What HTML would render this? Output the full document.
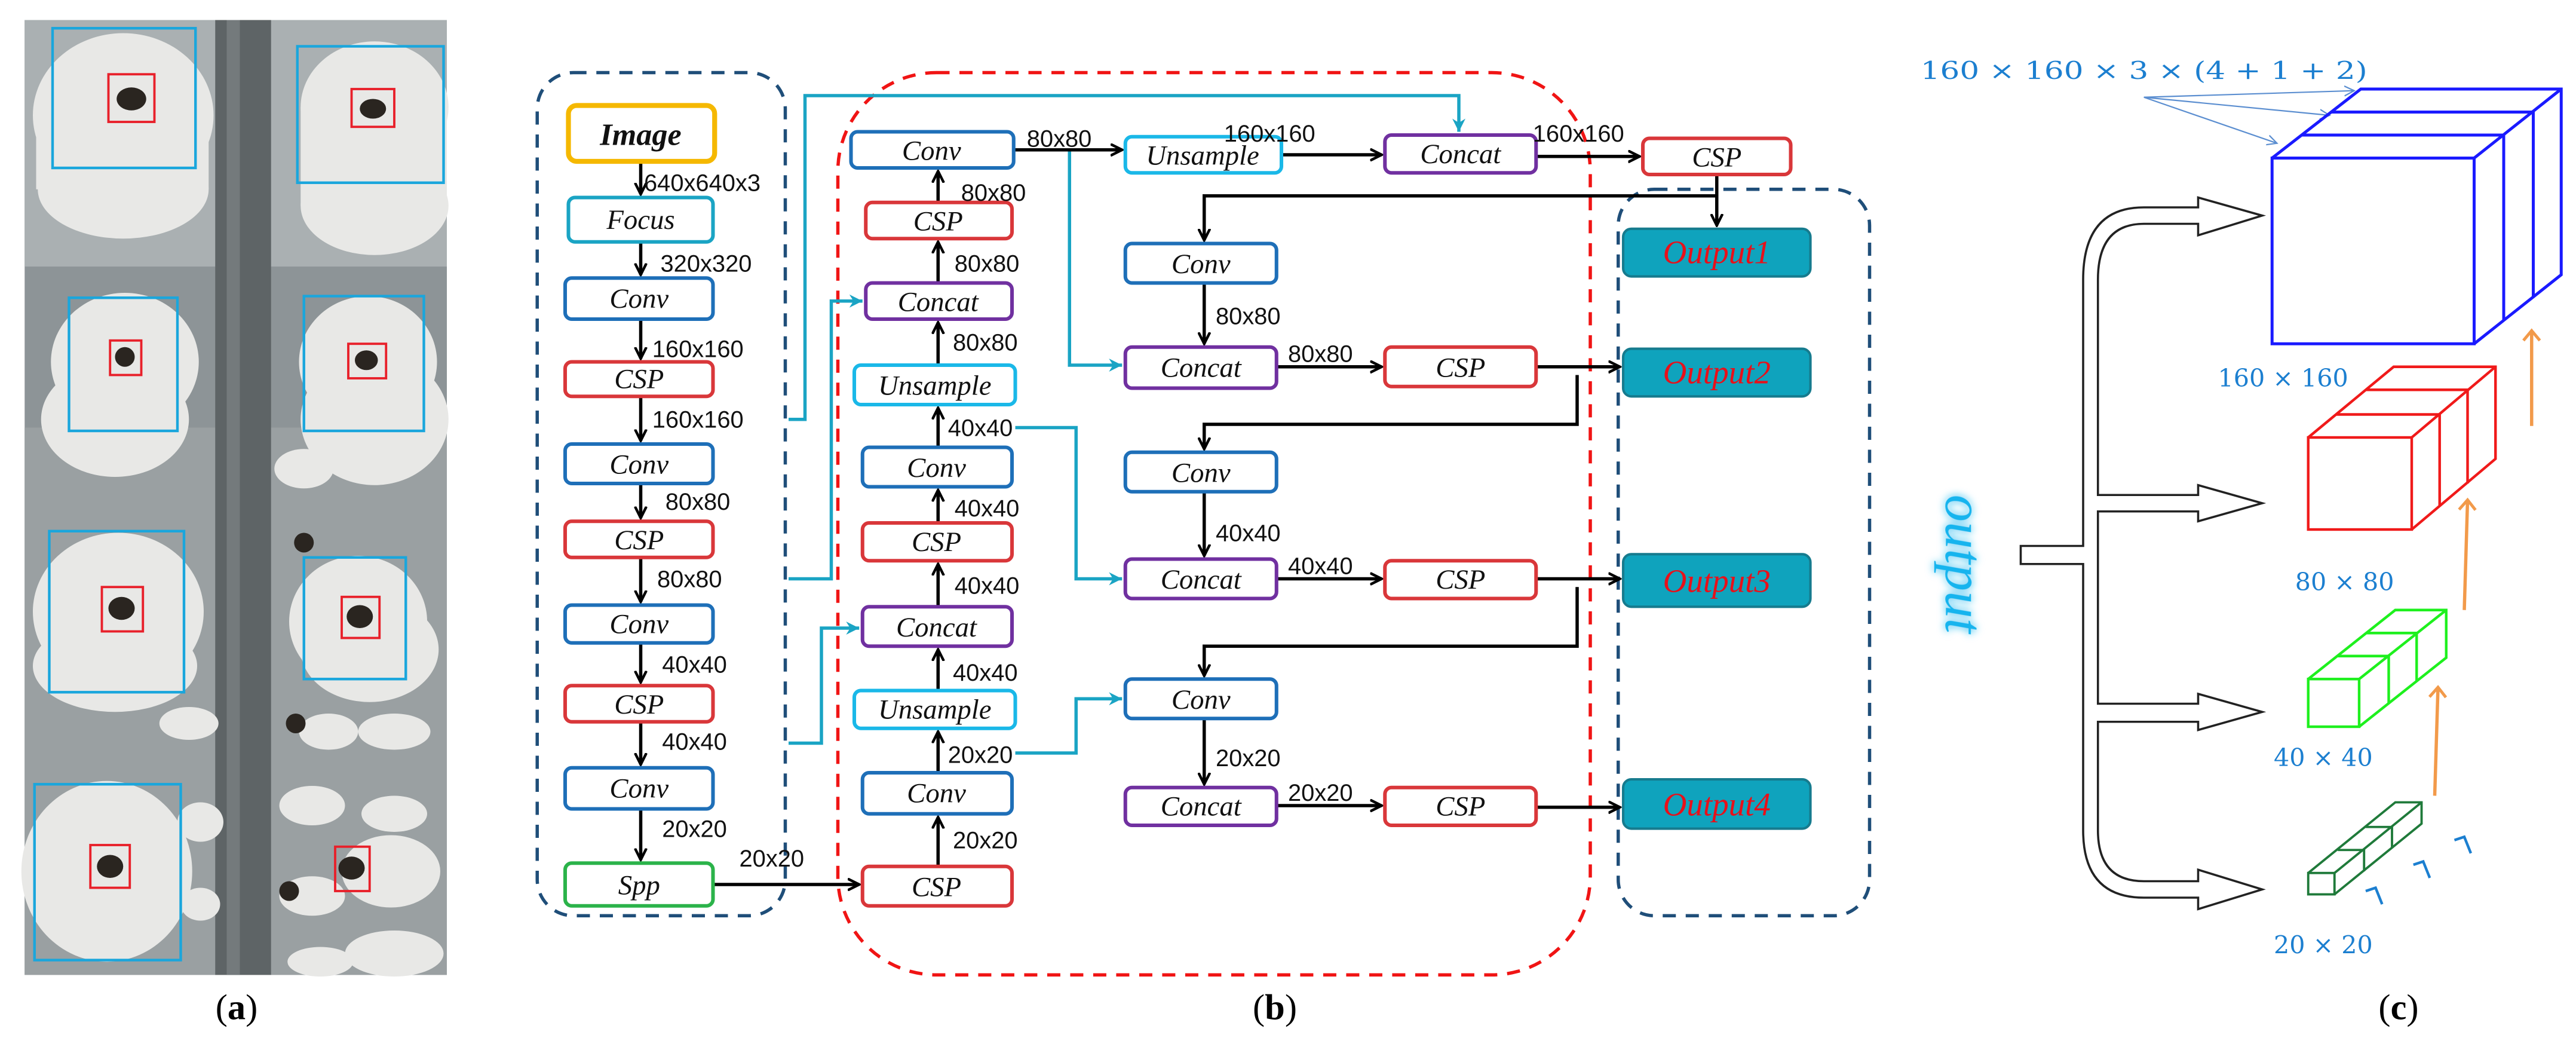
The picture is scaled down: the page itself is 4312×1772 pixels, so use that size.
<!DOCTYPE html>
<html><head><meta charset="utf-8"><style>
html,body{margin:0;padding:0;background:#fff;}
svg{display:block;}
.n{font-family:"Liberation Serif",serif;font-style:italic;font-size:17px;text-anchor:middle;fill:#111;}
.l{font-family:"Liberation Sans",sans-serif;font-size:14.5px;fill:#111;}
.o{font-family:"Liberation Serif",serif;font-style:italic;font-size:20px;text-anchor:middle;fill:#e8101a;}
.c{font-family:"DejaVu Serif","Liberation Serif",serif;font-size:15px;fill:#1c7fd0;}
.cap{font-family:"Liberation Serif",serif;font-size:22px;text-anchor:middle;fill:#000;}
</style></head><body>
<svg width="4312" height="1772" viewBox="0 0 1568 644" xmlns="http://www.w3.org/2000/svg">
<defs>
<marker id="ab" markerWidth="8" markerHeight="8" refX="7" refY="4" orient="auto" markerUnits="userSpaceOnUse"><path d="M0,0.5 L7,4 L0,7.5" fill="none" stroke="#000" stroke-width="1.6"/></marker>
<marker id="ac" markerWidth="9" markerHeight="9" refX="8" refY="4.5" orient="auto" markerUnits="userSpaceOnUse"><path d="M0,0.5 L8,4.5 L0,8.5 L2.5,4.5Z" fill="#1aa4c4"/></marker>
<marker id="ao" markerWidth="10" markerHeight="12" refX="7" refY="6" orient="auto" markerUnits="userSpaceOnUse"><path d="M1,1 L7,6 L1,11" fill="none" stroke="#f29a4a" stroke-width="1.8"/></marker>
<marker id="at" markerWidth="8" markerHeight="8" refX="6" refY="4" orient="auto" markerUnits="userSpaceOnUse"><path d="M0,1 L6,4 L0,7" fill="none" stroke="#5b8ed0" stroke-width="0.8"/></marker>
<filter id="glow" x="-20%" y="-20%" width="140%" height="140%"><feGaussianBlur stdDeviation="2.5" result="b"/><feMerge><feMergeNode in="b"/><feMergeNode in="SourceGraphic"/></feMerge></filter>
</defs>

<!-- Panel (a) photo -->
<rect x="15" y="12" width="257" height="581" fill="#8d9497"/>
<rect x="15" y="12" width="257" height="150" fill="#aab0b2"/>
<rect x="15" y="260" width="257" height="333" fill="#9aa0a2"/>
<rect x="131" y="12" width="34" height="581" fill="#5e6466"/>
<rect x="138" y="12" width="8" height="581" fill="#747a7c"/>
<g fill="#e8e8e6">
<ellipse cx="75" cy="70" rx="55" ry="50"/><rect x="22" y="70" width="105" height="45"/><ellipse cx="75" cy="115" rx="52" ry="30"/>
<ellipse cx="228" cy="65" rx="45" ry="40"/><rect x="183" y="65" width="89" height="60"/><ellipse cx="228" cy="125" rx="45" ry="30"/>
<ellipse cx="76" cy="220" rx="45" ry="42"/><ellipse cx="70" cy="255" rx="45" ry="35"/>
<ellipse cx="224" cy="220" rx="42" ry="40"/><ellipse cx="228" cy="255" rx="45" ry="40"/>
<ellipse cx="72" cy="372" rx="52" ry="48"/><ellipse cx="70" cy="405" rx="50" ry="28"/>
<ellipse cx="218" cy="378" rx="42" ry="40"/><ellipse cx="225" cy="395" rx="42" ry="32"/>
<ellipse cx="65" cy="530" rx="52" ry="55"/>
<ellipse cx="238" cy="530" rx="30" ry="22"/><ellipse cx="240" cy="580" rx="30" ry="14"/>
<ellipse cx="185" cy="285" rx="18" ry="12"/><ellipse cx="190" cy="490" rx="20" ry="12"/><ellipse cx="200" cy="445" rx="18" ry="11"/>
<ellipse cx="240" cy="445" rx="22" ry="11"/><ellipse cx="240" cy="495" rx="20" ry="11"/><ellipse cx="190" cy="545" rx="20" ry="12"/>
<ellipse cx="115" cy="440" rx="18" ry="10"/><ellipse cx="122" cy="500" rx="14" ry="12"/><ellipse cx="122" cy="550" rx="12" ry="10"/>
<ellipse cx="195" cy="585" rx="20" ry="9"/>
</g>
<g fill="#2a2520">
<ellipse cx="80" cy="60" rx="9" ry="7"/><ellipse cx="227" cy="66" rx="8" ry="6"/><ellipse cx="76" cy="217" rx="6" ry="6"/>
<ellipse cx="223" cy="219" rx="7" ry="6"/><ellipse cx="74" cy="370" rx="8" ry="7"/><ellipse cx="219" cy="375" rx="8" ry="7"/>
<ellipse cx="67" cy="527" rx="8" ry="7"/><ellipse cx="214" cy="528" rx="8" ry="7"/>
<ellipse cx="185" cy="330" rx="6" ry="6"/><ellipse cx="180" cy="440" rx="6" ry="6"/><ellipse cx="176" cy="542" rx="6" ry="6"/>
</g>
<g fill="none" stroke="#1aa6dc" stroke-width="1.6">
<rect x="32" y="17" width="87" height="85"/><rect x="181" y="28" width="89" height="83"/>
<rect x="42" y="181" width="66" height="81"/><rect x="185" y="180" width="73" height="82"/>
<rect x="30" y="323" width="82" height="98"/><rect x="185" y="339" width="62" height="74"/>
<rect x="21" y="477" width="89" height="107"/>
</g>
<g fill="none" stroke="#e8202a" stroke-width="1.4">
<rect x="66" y="45" width="28" height="29"/><rect x="214" y="54" width="26" height="23"/>
<rect x="67" y="207" width="19" height="21"/><rect x="212" y="209" width="23" height="21"/>
<rect x="62" y="357" width="25" height="27"/><rect x="208" y="363" width="23" height="25"/>
<rect x="55" y="514" width="24" height="26"/><rect x="204" y="515" width="21" height="27"/>
</g>
<text class="cap" x="144" y="620">(<tspan font-weight="bold">a</tspan>)</text>

<!-- Panel (b) containers -->
<rect x="327" y="44" width="151" height="513" rx="22" fill="none" stroke="#1f4e79" stroke-width="2" stroke-dasharray="8,6"/>
<rect x="510" y="44" width="458" height="549" rx="60" fill="none" stroke="#f01414" stroke-width="2" stroke-dasharray="8,6"/>
<rect x="985" y="115" width="153" height="442" rx="22" fill="none" stroke="#1f4e79" stroke-width="2" stroke-dasharray="8,6"/>

<!-- cyan connectors -->
<g fill="none" stroke="#1aa4c4" stroke-width="2">
<path d="M480,255 H490 V58 H888 V80" marker-end="url(#ac)"/>
<path d="M480,352 H506 V183 H525" marker-end="url(#ac)"/>
<path d="M480,452 H500 V382 H523" marker-end="url(#ac)"/>
<path d="M651,92 V222 H683" marker-end="url(#ac)"/>
<path d="M618,260 H655 V352 H683" marker-end="url(#ac)"/>
<path d="M618,458 H655 V425 H683" marker-end="url(#ac)"/>
</g>

<!-- black connectors -->
<g fill="none" stroke="#000" stroke-width="2">
<path d="M390,98 V118" marker-end="url(#ab)"/>
<path d="M390,147 V167" marker-end="url(#ab)"/>
<path d="M390,194 V218" marker-end="url(#ab)"/>
<path d="M390,241 V268" marker-end="url(#ab)"/>
<path d="M390,294 V315" marker-end="url(#ab)"/>
<path d="M390,339 V366" marker-end="url(#ab)"/>
<path d="M390,391 V415" marker-end="url(#ab)"/>
<path d="M390,439 V465" marker-end="url(#ab)"/>
<path d="M390,492 V523" marker-end="url(#ab)"/>
<path d="M434,538 H523" marker-end="url(#ab)"/>
<path d="M571,527 V497" marker-end="url(#ab)"/>
<path d="M571,470 V445" marker-end="url(#ab)"/>
<path d="M571,420 V395" marker-end="url(#ab)"/>
<path d="M571,369 V343" marker-end="url(#ab)"/>
<path d="M571,318 V298" marker-end="url(#ab)"/>
<path d="M571,272 V248" marker-end="url(#ab)"/>
<path d="M571,222 V196" marker-end="url(#ab)"/>
<path d="M571,172 V147" marker-end="url(#ab)"/>
<path d="M571,123 V104" marker-end="url(#ab)"/>
<path d="M618,91 H683" marker-end="url(#ab)"/>
<path d="M780,94 H841" marker-end="url(#ab)"/>
<path d="M935,95 H998" marker-end="url(#ab)"/>
<path d="M1045,106 V137" marker-end="url(#ab)"/>
<path d="M1045,119 H733 V146" marker-end="url(#ab)"/>
<path d="M733,172 V209" marker-end="url(#ab)"/>
<path d="M777,223 H841" marker-end="url(#ab)"/>
<path d="M935,223 H986" marker-end="url(#ab)"/>
<path d="M960,228 V258 H733 V273" marker-end="url(#ab)"/>
<path d="M733,299 V338" marker-end="url(#ab)"/>
<path d="M777,352 H841" marker-end="url(#ab)"/>
<path d="M935,352 H986" marker-end="url(#ab)"/>
<path d="M960,357 V393 H733 V411" marker-end="url(#ab)"/>
<path d="M733,437 V477" marker-end="url(#ab)"/>
<path d="M777,490 H841" marker-end="url(#ab)"/>
<path d="M935,491 H986" marker-end="url(#ab)"/>
</g>

<!-- nodes -->
<g stroke-width="2.2" fill="#fff">
<rect x="346" y="64" width="89" height="34" rx="5" stroke="#f5b800" stroke-width="3"/>
<rect x="346" y="120" width="88" height="27" rx="4" stroke="#1aa4c4"/>
<rect x="344" y="169" width="90" height="25" rx="4" stroke="#1e6fb8"/>
<rect x="344" y="220" width="90" height="21" rx="4" stroke="#d9373a"/>
<rect x="344" y="270" width="90" height="24" rx="4" stroke="#1e6fb8"/>
<rect x="344" y="317" width="90" height="22" rx="4" stroke="#d9373a"/>
<rect x="344" y="368" width="90" height="23" rx="4" stroke="#1e6fb8"/>
<rect x="344" y="417" width="90" height="22" rx="4" stroke="#d9373a"/>
<rect x="344" y="467" width="90" height="25" rx="4" stroke="#1e6fb8"/>
<rect x="344" y="525" width="90" height="26" rx="4" stroke="#2bb34a"/>

<rect x="518" y="80" width="99" height="22" rx="4" stroke="#1e6fb8"/>
<rect x="527" y="123" width="89" height="22" rx="4" stroke="#d9373a"/>
<rect x="527" y="172" width="89" height="22" rx="4" stroke="#7030a0"/>
<rect x="520" y="222" width="98" height="24" rx="4" stroke="#1ab8e8"/>
<rect x="525" y="272" width="91" height="24" rx="4" stroke="#1e6fb8"/>
<rect x="525" y="318" width="91" height="23" rx="4" stroke="#d9373a"/>
<rect x="525" y="369" width="91" height="24" rx="4" stroke="#7030a0"/>
<rect x="520" y="420" width="98" height="23" rx="4" stroke="#1ab8e8"/>
<rect x="525" y="470" width="91" height="25" rx="4" stroke="#1e6fb8"/>
<rect x="525" y="527" width="91" height="24" rx="4" stroke="#d9373a"/>

<rect x="685" y="83" width="95" height="22" rx="4" stroke="#1ab8e8"/>
<rect x="685" y="148" width="92" height="24" rx="4" stroke="#1e6fb8"/>
<rect x="685" y="211" width="92" height="25" rx="4" stroke="#7030a0"/>
<rect x="685" y="275" width="92" height="24" rx="4" stroke="#1e6fb8"/>
<rect x="685" y="340" width="92" height="24" rx="4" stroke="#7030a0"/>
<rect x="685" y="413" width="92" height="24" rx="4" stroke="#1e6fb8"/>
<rect x="685" y="479" width="92" height="23" rx="4" stroke="#7030a0"/>

<rect x="843" y="82" width="92" height="23" rx="4" stroke="#7030a0"/>
<rect x="843" y="211" width="92" height="24" rx="4" stroke="#d9373a"/>
<rect x="843" y="341" width="92" height="23" rx="4" stroke="#d9373a"/>
<rect x="843" y="479" width="92" height="23" rx="4" stroke="#d9373a"/>
<rect x="1000" y="84" width="90" height="22" rx="4" stroke="#d9373a"/>
</g>
<g fill="#0fa3bd" stroke="#167b8e" stroke-width="1.5">
<rect x="988" y="139" width="114" height="29" rx="5"/>
<rect x="988" y="212" width="114" height="29" rx="5"/>
<rect x="988" y="337" width="114" height="32" rx="5"/>
<rect x="988" y="474" width="114" height="30" rx="5"/>
</g>

<g class="n">
<text x="390" y="88" font-weight="bold" font-size="19">Image</text>
<text x="390" y="139">Focus</text>
<text x="389" y="187">Conv</text>
<text x="389" y="236">CSP</text>
<text x="389" y="288">Conv</text>
<text x="389" y="334">CSP</text>
<text x="389" y="385">Conv</text>
<text x="389" y="434">CSP</text>
<text x="389" y="485">Conv</text>
<text x="389" y="544">Spp</text>
<text x="567" y="97">Conv</text>
<text x="571" y="140">CSP</text>
<text x="571" y="189">Concat</text>
<text x="569" y="240">Unsample</text>
<text x="570" y="290">Conv</text>
<text x="570" y="335">CSP</text>
<text x="570" y="387">Concat</text>
<text x="569" y="437">Unsample</text>
<text x="570" y="488">Conv</text>
<text x="570" y="545">CSP</text>
<text x="732" y="100">Unsample</text>
<text x="731" y="166">Conv</text>
<text x="731" y="229">Concat</text>
<text x="731" y="293">Conv</text>
<text x="731" y="358">Concat</text>
<text x="731" y="431">Conv</text>
<text x="731" y="496">Concat</text>
<text x="889" y="99">Concat</text>
<text x="889" y="229">CSP</text>
<text x="889" y="358">CSP</text>
<text x="889" y="496">CSP</text>
<text x="1045" y="101">CSP</text>
</g>
<g class="o">
<text x="1045" y="160">Output1</text>
<text x="1045" y="233">Output2</text>
<text x="1045" y="360">Output3</text>
<text x="1045" y="496">Output4</text>
</g>

<g class="l">
<text x="392" y="116">640x640x3</text>
<text x="402" y="165">320x320</text>
<text x="397" y="217">160x160</text>
<text x="397" y="260">160x160</text>
<text x="405" y="310">80x80</text>
<text x="400" y="357">80x80</text>
<text x="403" y="409">40x40</text>
<text x="403" y="456">40x40</text>
<text x="403" y="509">20x20</text>
<text x="450" y="527">20x20</text>
<text x="585" y="122">80x80</text>
<text x="581" y="165">80x80</text>
<text x="580" y="213">80x80</text>
<text x="577" y="265">40x40</text>
<text x="581" y="314">40x40</text>
<text x="581" y="361">40x40</text>
<text x="580" y="414">40x40</text>
<text x="577" y="464">20x20</text>
<text x="580" y="516">20x20</text>
<text x="625" y="89">80x80</text>
<text x="745" y="86">160x160</text>
<text x="933" y="86">160x160</text>
<text x="740" y="197">80x80</text>
<text x="784" y="220">80x80</text>
<text x="740" y="329">40x40</text>
<text x="784" y="349">40x40</text>
<text x="740" y="466">20x20</text>
<text x="784" y="487">20x20</text>
</g>
<text class="cap" x="776" y="620">(<tspan font-weight="bold">b</tspan>)</text>

<!-- Panel (c) -->
<text class="c" x="1169" y="48" font-size="17.5" textLength="272" lengthAdjust="spacingAndGlyphs">160 × 160 × 3 × (4 + 1 + 2)</text>
<g stroke="#5b8ed0" stroke-width="0.8" fill="none">
<path d="M1305,59 L1433,55" marker-end="url(#at)"/><path d="M1305,59 L1418,70" marker-end="url(#at)"/><path d="M1305,59 L1386,87" marker-end="url(#at)"/>
</g>
<!-- blue cuboid -->
<g fill="none" stroke="#1a1aff" stroke-width="1.8">
<rect x="1383" y="96" width="123" height="113"/>
<path d="M1383,96 L1437,54 L1559,54 L1559,167 L1506,209"/>
<path d="M1506,96 L1559,54"/>
<path d="M1401,82 L1524,82 L1524,195"/>
<path d="M1419,68 L1542,68 L1542,181"/>
</g>
<!-- red cuboid -->
<g fill="none" stroke="#f01a1a" stroke-width="1.6">
<rect x="1405" y="266" width="63" height="56"/>
<path d="M1405,266 L1457,223 L1519,223 L1519,279 L1468,322"/>
<path d="M1468,266 L1519,223"/>
<path d="M1422,252 L1485,252 L1485,308"/>
<path d="M1440,237 L1502,237 L1502,294"/>
</g>
<!-- green cuboid -->
<g fill="none" stroke="#1ef01e" stroke-width="1.6">
<rect x="1405" y="413" width="31" height="29"/>
<path d="M1405,413 L1458,371 L1489,371 L1489,400 L1436,442"/>
<path d="M1436,413 L1489,371"/>
<path d="M1423,399 L1454,399 L1454,428"/>
<path d="M1440,385 L1471,385 L1471,414"/>
</g>
<!-- dark green cuboid -->
<g fill="none" stroke="#1f7a3a" stroke-width="1.4">
<rect x="1405" y="531" width="16" height="13"/>
<path d="M1405,531 L1458,488 L1474,488 L1474,501 L1421,544"/>
<path d="M1421,531 L1474,488"/>
<path d="M1423,517 L1439,517 L1439,530"/>
<path d="M1440,503 L1456,503 L1456,516"/>
</g>
<g fill="none" stroke="#1c7fd0" stroke-width="1.6">
<path d="M1440,542 L1446,540 L1450,550"/>
<path d="M1469,526 L1475,524 L1479,534"/>
<path d="M1494,511 L1500,509 L1504,519"/>
</g>
<g class="c" font-size="16">
<text x="1350" y="235">160 × 160</text>
<text x="1397" y="359">80 × 80</text>
<text x="1384" y="466">40 × 40</text>
<text x="1384" y="580">20 × 20</text>
</g>
<g stroke="#f29a4a" stroke-width="2" fill="none">
<path d="M1541,259 V201" marker-end="url(#ao)"/>
<path d="M1500,371 L1502,304" marker-end="url(#ao)"/>
<path d="M1482,484 L1484,418" marker-end="url(#ao)"/>
</g>
<!-- hollow arrow tree -->
<g fill="none" stroke="#222" stroke-width="1.3">
<path d="M1268,332 H1230 V343 H1268 V505 Q1268,546 1305,546 H1338 V553 L1377,541 L1338,529 V536 H1305 Q1277,536 1277,505 V439 H1338 V444 L1377,433 L1338,422 V428 H1277 V311 H1338 V317 L1377,306 L1338,295 V301 H1277 V170 Q1277,136 1305,136 H1338 V143 L1377,131 L1338,120 V126 H1305 Q1268,126 1268,170 Z"/>
</g>
<text x="1192" y="343" transform="rotate(90 1192 343)" font-family="Liberation Serif,serif" font-style="italic" font-size="33" fill="#19b4ee" text-anchor="middle" dominant-baseline="middle" filter="url(#glow)">output</text>
<text class="cap" x="1460" y="620">(<tspan font-weight="bold">c</tspan>)</text>
</svg>
</body></html>
